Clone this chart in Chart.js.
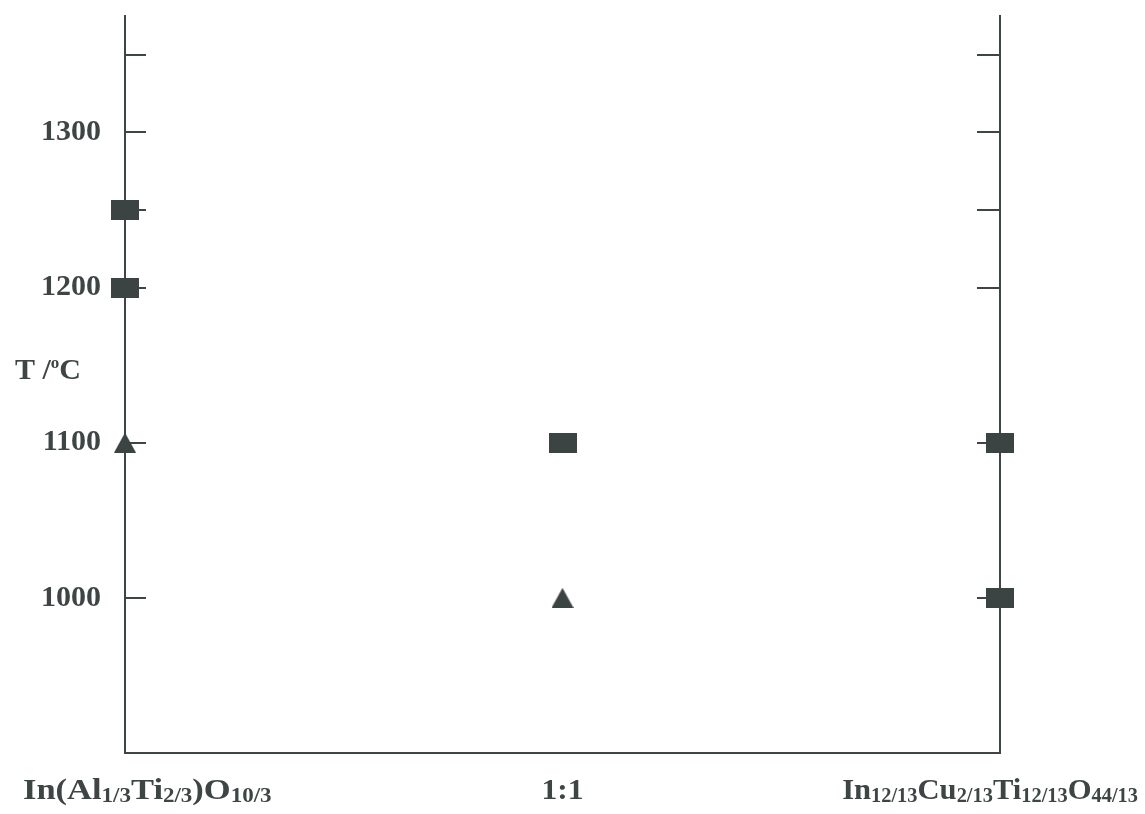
<!DOCTYPE html>
<html>
<head>
<meta charset="utf-8">
<script src="https://cdn.jsdelivr.net/npm/chart.js@4/dist/chart.umd.min.js"></script>
<style>
  html, body { margin: 0; padding: 0; background: #ffffff; }
  #wrap { width: 1145px; height: 814px; }
</style>
</head>
<body>
<div id="wrap"><canvas id="c" width="1145" height="814"></canvas></div>
<script>
// Composition axis: end members and the 1:1 mixture (subscripts in _{...})
const compositionPositions = [0, 0.5, 1];
const compositionLabels = [
  'In(Al_{1/3}Ti_{2/3})O_{10/3}',
  '1:1',
  'In_{12/13}Cu_{2/13}Ti_{12/13}O_{44/13}'
];
// Horizontal stretch of each composition label
const labelStretch = [1.15, 1.05, 1.02];

// Temperature ticks
const temperatureTicks = [1000, 1100, 1200, 1250, 1300, 1350];
const temperatureLabels = [1000, 1100, 1200, 1300];

// Square markers
const squareX = [0, 0, 0.5, 1, 1];
const squareT = [1250, 1200, 1100, 1100, 1000];

// Triangle markers
const triangleX = [0, 0.5];
const triangleT = [1100, 1000];

const INK = '#3e4645';
const MARK = '#3b4442';
const SERIF = '"Liberation Serif", "DejaVu Serif", serif';

function toPoints(xs, ys) {
  return xs.map((x, i) => ({ x: x, y: ys[i] }));
}

// Filled rectangle used as the square marker
const rectMarker = document.createElement('canvas');
rectMarker.width = 28;
rectMarker.height = 20;
(function () {
  const g = rectMarker.getContext('2d');
  g.fillStyle = MARK;
  g.fillRect(0, 0, 28, 20);
})();

// Filled triangle, centred on its bounding box
const triMarker = document.createElement('canvas');
triMarker.width = 22;
triMarker.height = 20;
(function () {
  const g = triMarker.getContext('2d');
  g.fillStyle = MARK;
  g.beginPath();
  g.moveTo(11, 0);
  g.lineTo(22, 20);
  g.lineTo(0, 20);
  g.closePath();
  g.fill();
})();

// Parse "A_{b}C" into segments
function parseRich(s) {
  const out = [];
  const re = /_\{([^}]*)\}/g;
  let last = 0, m;
  while ((m = re.exec(s)) !== null) {
    if (m.index > last) out.push({ t: s.slice(last, m.index), sub: false });
    out.push({ t: m[1], sub: true });
    last = re.lastIndex;
  }
  if (last < s.length) out.push({ t: s.slice(last), sub: false });
  return out;
}

const mainFont = 'bold 30px ' + SERIF;
const subFont = 'bold 20px ' + SERIF;

// Inward tick marks on both temperature axes
const innerTicks = {
  id: 'innerTicks',
  beforeDatasetsDraw(chart) {
    const ctx = chart.ctx;
    const y = chart.scales.y;
    const a = chart.chartArea;
    ctx.save();
    ctx.strokeStyle = INK;
    ctx.lineWidth = 2;
    temperatureTicks.forEach(v => {
      const py = Math.round(y.getPixelForValue(v));
      ctx.beginPath();
      ctx.moveTo(a.left, py);
      ctx.lineTo(a.left + 21, py);
      ctx.moveTo(a.right - 23, py);
      ctx.lineTo(a.right, py);
      ctx.stroke();
    });
    ctx.restore();
  }
};

// Composition labels with subscripts, and the temperature axis title
const richLabels = {
  id: 'richLabels',
  afterDraw(chart) {
    const ctx = chart.ctx;
    const xs = chart.scales.x;
    const ys = chart.scales.y;
    ctx.save();
    ctx.fillStyle = INK;
    ctx.textBaseline = 'alphabetic';
    ctx.textAlign = 'left';
    const baseline = 799;
    compositionLabels.forEach((lab, i) => {
      const k = labelStretch[i];
      const segs = parseRich(lab);
      let w = 0;
      segs.forEach(sg => {
        ctx.font = sg.sub ? subFont : mainFont;
        sg.w = ctx.measureText(sg.t).width;
        w += sg.w;
      });
      const W = w * k;
      let left = xs.getPixelForValue(compositionPositions[i]) - W / 2;
      left = Math.max(23, Math.min(left, chart.width - 7 - W));
      ctx.save();
      ctx.translate(left, baseline);
      ctx.scale(k, 1);
      let px = 0;
      segs.forEach(sg => {
        ctx.font = sg.sub ? subFont : mainFont;
        ctx.fillText(sg.t, px, sg.sub ? 3 : 0);
        px += sg.w;
      });
      ctx.restore();
    });
    // "T /°C" beside the temperature axis
    const ty = ys.getPixelForValue(1150) + 14;
    let tx = 15;
    ctx.font = mainFont;
    ctx.fillText('T /', tx, ty);
    tx += ctx.measureText('T /').width;
    ctx.font = 'bold 17px ' + SERIF;
    ctx.fillText('o', tx, ty - 11);
    tx += ctx.measureText('o').width;
    ctx.font = mainFont;
    ctx.fillText('C', tx, ty);
    ctx.restore();
  }
};

new Chart(document.getElementById('c'), {
  type: 'scatter',
  data: {
    datasets: [
      {
        label: 'square',
        data: toPoints(squareX, squareT),
        pointStyle: rectMarker,
        pointRadius: 14,
        pointHoverRadius: 14,
        backgroundColor: MARK,
        borderColor: MARK,
        clip: false
      },
      {
        label: 'triangle',
        data: toPoints(triangleX, triangleT),
        pointStyle: triMarker,
        pointRadius: 11,
        pointHoverRadius: 11,
        backgroundColor: MARK,
        borderColor: MARK,
        clip: false
      }
    ]
  },
  options: {
    responsive: false,
    animation: false,
    devicePixelRatio: 1,
    layout: { padding: { top: 16, left: 0, right: 0, bottom: 0 } },
    plugins: {
      legend: { display: false },
      tooltip: { enabled: false }
    },
    scales: {
      x: {
        type: 'linear',
        min: 0,
        max: 1,
        grid: { display: false, drawTicks: false },
        border: { display: true, color: INK, width: 2 },
        ticks: { display: false },
        afterFit(s) {
          s.height = 814 - 753;
          s.paddingLeft = 0; s.paddingRight = 0;
        }
      },
      y: {
        type: 'linear',
        position: 'left',
        min: 900,
        max: 1375,
        afterBuildTicks(s) { s.ticks = temperatureTicks.map(v => ({ value: v })); },
        grid: { display: false, drawTicks: false },
        border: { display: true, color: INK, width: 2 },
        ticks: {
          color: INK,
          padding: 24,
          font: { family: SERIF, size: 30, weight: 'bold' },
          callback: v => (temperatureLabels.includes(v) ? String(v) : '')
        },
        afterFit(s) {
          s.width = 125;
          s.paddingTop = 0; s.paddingBottom = 0;
        }
      },
      y2: {
        type: 'linear',
        position: 'right',
        min: 900,
        max: 1375,
        grid: { display: false, drawTicks: false },
        border: { display: true, color: INK, width: 2 },
        ticks: { display: false },
        afterFit(s) {
          s.width = 1145 - 1000;
          s.paddingTop = 0; s.paddingBottom = 0;
        }
      }
    }
  },
  plugins: [innerTicks, richLabels]
});
</script>
</body>
</html>
